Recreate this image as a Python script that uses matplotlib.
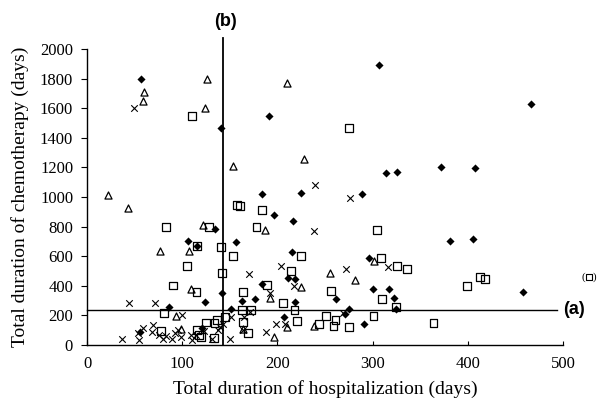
import numpy as np
import matplotlib
matplotlib.use('Agg')
import matplotlib.pyplot as plt

## ---------------------- DATA (days) ----------------------
# filled diamonds
DIA_X = [57, 141, 191, 307, 466, 314, 326, 372, 408, 225, 289, 184, 196, 216, 381, 406,
         215, 296, 211, 219, 458, 262, 300, 317, 322, 219, 325, 275, 271, 207, 291, 134,
         106, 116, 156, 124, 142, 86, 163, 176, 184, 151, 56, 121]
DIA_Y = [1797, 1468, 1545, 1892, 1630, 1160, 1171, 1200, 1193, 1025, 1018, 1018, 876, 840, 703, 716,
         631, 590, 455, 448, 358, 311, 378, 378, 320, 288, 241, 241, 211, 191, 144, 784,
         703, 671, 698, 290, 349, 254, 295, 310, 410, 245, 86, 113]

# open triangles
TRI_X = [60, 59, 126, 124, 153, 210, 228, 22, 43, 122, 77, 107, 187, 302, 255, 281,
         225, 109, 93, 192, 164, 196, 210, 238, 99]
TRI_Y = [1711, 1649, 1800, 1603, 1209, 1772, 1257, 1013, 923, 811, 635, 637, 777, 568, 484, 437,
         390, 378, 193, 315, 106, 56, 120, 130, 106]

# open squares
SQ_X = [110, 275, 158, 161, 184, 83, 128, 178, 305, 116, 141, 153, 105, 142, 90, 115,
        164, 189, 225, 309, 214, 326, 336, 413, 418, 399, 256, 310, 206, 218, 325, 221,
        251, 261, 301, 275, 259, 244, 364, 81, 163, 172, 145, 137, 134, 125, 116, 118,
        120, 78, 169, 164, 133]
SQ_Y = [1549, 1468, 946, 940, 912, 795, 795, 795, 779, 671, 664, 603, 534, 489, 402, 358,
        360, 408, 599, 588, 498, 536, 511, 462, 444, 401, 365, 313, 287, 236, 256, 164,
        196, 169, 196, 124, 130, 142, 151, 219, 239, 236, 191, 169, 147, 152, 101, 68,
        56, 95, 79, 158, 45]

# crosses
X_X = [49, 240, 276, 238, 204, 272, 316, 217, 269, 199, 208, 170, 192, 44, 71, 100,
       171, 151, 143, 140, 165, 164, 188, 37, 55, 54, 59, 69, 68, 76, 80, 83,
       89, 92, 96, 99, 109, 110, 114, 123, 131, 150, 138]
X_Y = [1603, 1081, 995, 770, 534, 513, 529, 401, 218, 142, 142, 480, 349, 282, 282, 205,
       225, 191, 142, 124, 191, 101, 86, 38, 34, 79, 117, 135, 90, 68, 38, 63,
       38, 79, 101, 56, 68, 34, 68, 95, 38, 38, 101]

# outlier drawn outside the axis, in brackets
OUT_X = [527]
OUT_Y = [460]

# cut-off lines
CUT_A = 240   # chemotherapy days, line (a)
CUT_B = 143   # hospitalization days, line (b)

## ---------------------- PLOT ----------------------
plt.rcParams['font.family'] = ['Liberation Serif', 'DejaVu Serif']

fig = plt.figure(figsize=(6, 4.05), dpi=100)
ax = fig.add_axes([0.145, 0.148, 0.7933, 0.731])

ax.scatter(DIA_X, DIA_Y, marker='D', s=17, c='black', linewidths=0, zorder=3)
ax.scatter(TRI_X, TRI_Y, marker='^', s=26, facecolors='white', edgecolors='black', linewidths=0.9, zorder=3)
ax.scatter(SQ_X, SQ_Y, marker='s', s=32, facecolors='none', edgecolors='black', linewidths=0.9, zorder=3)
ax.scatter(X_X, X_Y, marker='x', s=22, c='black', linewidths=0.8, zorder=3)
ax.scatter(OUT_X, OUT_Y, marker='s', s=18, facecolors='none', edgecolors='black', linewidths=0.8, clip_on=False)
ax.text(OUT_X[0] - 4, OUT_Y[0], '(', ha='right', va='center', fontsize=8)
ax.text(OUT_X[0] + 4, OUT_Y[0], ')', ha='left', va='center', fontsize=8)

# line (a) horizontal, line (b) vertical
ax.plot([0, 494], [CUT_A, CUT_A], color='black', lw=1.0, clip_on=False)
ax.plot([CUT_B, CUT_B], [0, 2075], color='black', lw=1.3, clip_on=False)
ax.text(500, CUT_A, '(a)', family='Liberation Sans', fontweight='bold', fontsize=13, ha='left', va='center')
ax.text(CUT_B + 2, 2185, '(b)', family='Liberation Sans', fontweight='bold', fontsize=13, ha='center', va='center')

ax.set_xlim(0, 500)
ax.set_ylim(0, 2000)
ax.set_xticks(np.arange(0, 501, 100))
ax.set_yticks(np.arange(0, 2001, 200))
ax.tick_params(axis='y', direction='out', length=4, labelsize=12, pad=6)
ax.tick_params(axis='x', direction='in', length=3, labelsize=12, pad=8)
ax.spines['top'].set_visible(False)
ax.spines['right'].set_visible(False)
ax.spines['left'].set_linewidth(1.0)
ax.spines['bottom'].set_linewidth(1.0)

ax.set_xlabel('Total duration of hospitalization (days)', fontsize=14, labelpad=6)
ax.set_ylabel('Total duration of chemotherapy (days)', fontsize=14, labelpad=8)

fig.savefig('out.png', dpi=100)
